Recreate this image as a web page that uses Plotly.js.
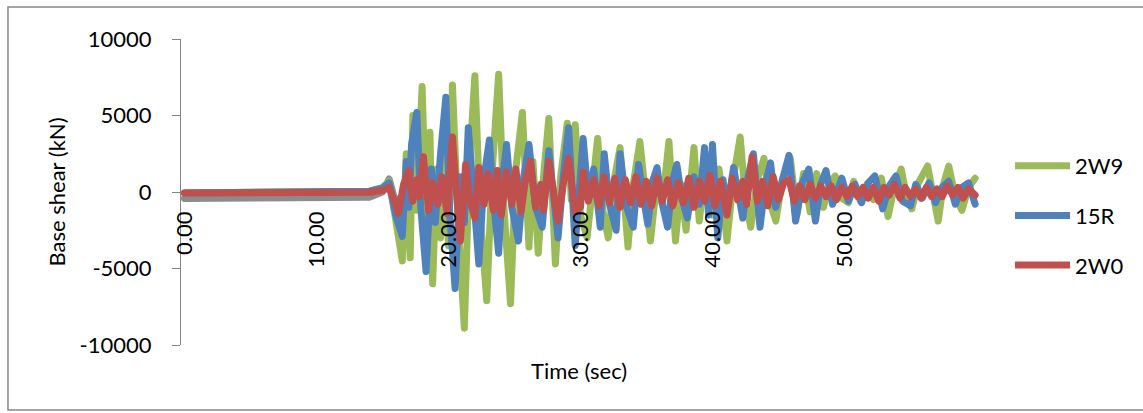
<!DOCTYPE html>
<html>
<head>
<meta charset="utf-8">
<script src="https://cdn.plot.ly/plotly-3.0.1.min.js"></script>
<style>
  html, body { margin: 0; padding: 0; background: #fff; }
  #chart { width: 1143px; height: 413px; }
  .scatterlayer path.js-line { stroke-linejoin: round; stroke-linecap: round; }
</style>
</head>
<body>
<div id="chart"></div>
<script>
// ---- data ----
const seriesNames = ['2W9', '15R', '2W0'];
const seriesColors = ['#9BBB59', '#4F81BD', '#C0504D'];

const time2W9 = [0, 3, 6, 9, 12, 14, 15, 15.5, 16.0, 16.5,
  16.8, 17.1, 17.3, 17.6, 18.0, 18.3, 18.6, 18.8, 19.1, 19.4,
  19.7, 20.0, 20.3, 20.7, 21.2, 21.6, 22.0, 22.4, 22.9, 23.3,
  23.8, 24.2, 24.7, 25.1, 25.6, 26.1, 26.4, 26.8, 27.2, 27.6,
  28.1, 28.5, 29.0, 29.3, 29.6, 30.0, 30.5, 30.9, 31.3, 31.7,
  32.1, 32.6, 33.0, 33.6, 34.0, 34.5, 34.9, 35.3, 35.8, 36.2,
  36.7, 37.2, 37.6, 38.0, 38.6, 39.0, 39.5, 40.0, 40.5, 41.1,
  41.6, 42.1, 42.5, 42.9, 43.4, 43.9, 44.4, 44.8, 45.3, 45.9,
  46.4, 46.9, 47.4, 47.9, 48.4, 48.9, 49.3, 49.8, 50.3, 50.7,
  51.2, 51.7, 52.2, 52.8, 53.3, 53.8, 54.3, 54.7, 55.1, 55.6,
  56.3, 56.7, 57.1, 57.5, 57.9, 58.4, 58.9, 59.4, 59.9];
const shear2W9 = [-60, -60, -55, -50, -45, 50, 300, 700, -1800, -4500,
  2500, -4300, 5000, -1200, 6900, -1500, 3900, -6000, 1500, -3000,
  2500, -3500, 7000, -1500, -8900, 2000, 7600, -1500, -7100, 1200,
  7700, -1000, -7300, 1500, 5200, -3600, 2000, -4000, 1000, 4800,
  -4700, 1000, 4500, -500, 4400, -1500, -3000, 800, 3500, -1200,
  -3000, 1000, 2900, -3600, 500, 3300, -500, -3200, 800, -800,
  3300, -3200, 500, -2500, 2900, -1900, 2000, -1500, 1500, -3200,
  1000, 3600, -500, -2300, 800, 2200, -800, -1900, 800, 2200,
  -1500, 1200, -1300, 1200, -1000, 600, 1050, -400, -700, 700,
  -600, 500, -500, 900, -1600, 400, 1500, -300, -1100, 600,
  1700, -200, -1900, 500, 1700, -300, -1200, 300, 900];

const time15R = [0, 3, 6, 9, 12, 14, 15, 15.5, 16.0, 16.5,
  16.8, 17.0, 17.2, 17.6, 17.9, 18.3, 18.7, 19.0, 19.4, 19.8,
  20.1, 20.5, 20.9, 21.2, 21.5, 21.9, 22.3, 22.7, 23.1, 23.4,
  23.8, 24.1, 24.4, 24.8, 25.3, 25.7, 26.1, 26.6, 27.1, 27.6,
  28.0, 28.3, 28.7, 29.1, 29.6, 30.2, 30.6, 31.0, 31.5, 31.8,
  32.2, 32.7, 33.0, 33.5, 34.0, 34.4, 34.8, 35.1, 35.5, 35.8,
  36.2, 36.6, 37.0, 37.3, 37.7, 38.1, 38.6, 39.0, 39.4, 39.7,
  40.0, 40.4, 40.8, 41.1, 41.6, 42.0, 42.3, 42.7, 43.1, 43.6,
  44.0, 44.4, 44.8, 45.3, 45.8, 46.3, 46.8, 47.3, 47.8, 48.2,
  48.6, 49.1, 49.5, 49.8, 50.3, 50.8, 51.3, 51.8, 52.3, 52.9,
  53.4, 53.9, 54.4, 55.0, 55.4, 55.9, 56.4, 56.9, 57.4, 57.9,
  58.4, 58.9, 59.4, 59.9];
const shear15R = [-60, -60, -55, -50, -45, 50, 250, 600, -1500, -2900,
  2000, -1000, 3100, 5200, -1000, -5200, 1500, -2000, 2500, 6200,
  -1500, -6300, 1000, -2000, 4200, -1000, -4700, 1000, 3400, -500,
  -4000, 800, 3100, -1000, -3200, 1000, 3100, -1000, -2300, 2700,
  -500, -3000, 1000, 4200, -3500, 3500, -500, 1500, -2300, 2500,
  -800, -2500, 2500, -1000, -2300, 1800, -500, -2100, 800, 1600,
  -800, -2300, 800, 1800, -500, -1700, 1000, -800, 2900, -1500,
  3100, -3000, 800, -1200, 1600, -500, -1700, 1000, 2500, -2300,
  500, 1900, -1000, 800, 2400, -1900, 600, 1500, -1900, 500,
  1400, -800, 300, 900, -600, 500, -700, 600, 1050, -1100,
  400, 1050, -600, -900, 500, -400, 600, -700, 300, 700,
  -800, 300, 600, -800];

const time2W0 = [0, 3, 6, 9, 12, 14, 15, 15.5, 16.0, 16.2,
  16.6, 17.0, 17.3, 17.6, 17.8, 18.1, 18.5, 18.8, 19.2, 19.5,
  19.9, 20.3, 20.6, 20.9, 21.3, 21.6, 22.0, 22.3, 22.7, 23.0,
  23.4, 23.7, 24.0, 24.4, 24.8, 25.1, 25.5, 25.8, 26.2, 26.6,
  27.0, 27.2, 27.6, 28.0, 28.3, 28.7, 29.1, 29.6, 30.0, 30.2,
  30.6, 31.0, 31.4, 31.8, 32.2, 32.6, 33.0, 33.4, 33.8, 34.2,
  34.6, 35.0, 35.4, 35.8, 36.2, 36.6, 37.0, 37.4, 37.8, 38.2,
  38.6, 39.0, 39.4, 39.8, 40.2, 40.6, 41.1, 41.5, 41.9, 42.3,
  42.6, 43.0, 43.4, 43.8, 44.2, 44.6, 45.0, 45.4, 45.8, 46.2,
  46.6, 47.0, 47.4, 47.8, 48.2, 48.6, 49.0, 49.4, 49.8, 50.2,
  50.6, 51.0, 51.4, 51.8, 52.2, 52.6, 53.0, 53.4, 53.8, 54.2,
  54.6, 55.0, 55.4, 55.8, 56.2, 56.6, 57.0, 57.4, 57.8, 58.2,
  58.6, 59.0, 59.4, 59.9];
const shear2W0 = [-70, -70, -65, -60, -55, -20, 100, 300, -800, -1400,
  500, 1400, -600, 800, -300, 2300, -1200, 600, -800, 1000,
  -1400, 3600, 0, -3200, 1800, -500, -1700, 1600, -800, 1200,
  -1200, 1400, -1500, 1300, -800, 1500, -1300, 600, 2000, -1000,
  500, -1200, 2000, -500, -1900, 500, 2200, -1300, -1000, 1300,
  -600, 800, -900, 1000, -700, 900, -1000, 800, -700, 1000,
  -800, 700, -900, 900, -600, 800, -900, 600, -700, 900,
  -1000, 700, -600, 1100, -900, 700, -1500, 900, -500, 700,
  -800, 2300, -600, 700, -900, 1000, -500, 600, 800, -600,
  400, -500, 500, -400, 400, -300, 400, -500, 300, -300,
  400, -300, 300, -400, 300, -600, 300, -200, 500, -400,
  300, -300, 200, -400, 300, -300, 200, -300, 400, -200,
  300, -400, 200, -200];

// grey band visible under the red line before the strong motion
const timeGrey = [0, 5, 10, 14, 15, 15.5, 15.9, 16.3];
const shearGrey = [-420, -420, -410, -340, 0, 850, -400, -500];

const xTickVals = [0, 10, 20, 30, 40, 50];
const xTickText = ['0.00', '10.00', '20.00', '30.00', '40.00', '50.00'];
const yTickVals = [-10000, -5000, 0, 5000, 10000];
const yTickText = ['-10000', '-5000', '0', '5000', '10000'];

// ---- traces ----
const seriesTimes = [time2W9, time15R, time2W0];
const seriesShear = [shear2W9, shear15R, shear2W0];

const traces = [{
  x: timeGrey, y: shearGrey, type: 'scatter', mode: 'lines',
  line: { color: '#8C8C8C', width: 7 }, showlegend: false, hoverinfo: 'skip'
}];
seriesNames.forEach((name, i) => {
  traces.push({
    x: seriesTimes[i], y: seriesShear[i], name: name,
    type: 'scatter', mode: 'lines', legendgroup: 'g' + i,
    line: { color: seriesColors[i], width: 7 }
  });
});

const layout = {
  width: 1143, height: 413,
  margin: { l: 181, r: 161, t: 39, b: 68, pad: 0 },
  paper_bgcolor: '#ffffff', plot_bgcolor: '#ffffff',
  font: { family: 'Lato, "Open Sans", sans-serif', size: 22, color: '#000000' },
  showlegend: true,
  xaxis: {
    range: [-0.265, 60.42], anchor: 'free', position: 0.5,
    tickmode: 'array', tickvals: xTickVals, ticktext: xTickText,
    tickangle: -90, ticks: '', showline: false, showgrid: false, zeroline: false,
    ticklabelstandoff: 14, tickfont: { size: 22, color: '#000000' },
    automargin: false, fixedrange: true
  },
  yaxis: {
    range: [-10000, 10000],
    tickmode: 'array', tickvals: yTickVals, ticktext: yTickText,
    ticks: 'outside', ticklen: 8, tickwidth: 1, tickcolor: '#868686',
    showline: true, linecolor: '#868686', linewidth: 1,
    showgrid: false, zeroline: false,
    ticklabelstandoff: 16, tickfont: { size: 22, color: '#000000' },
    title: { text: 'Base shear (kN)', font: { size: 22, color: '#000000' }, standoff: 7 },
    automargin: false, fixedrange: true
  },
  legend: {
    x: 1.035, xanchor: 'left', y: 0.6536, yanchor: 'top',
    font: { size: 22, color: '#000000' }, tracegroupgap: 18,
    itemwidth: 55,
    bgcolor: 'rgba(0,0,0,0)', borderwidth: 0
  },
  annotations: [{
    text: 'Time (sec)', xref: 'paper', yref: 'paper',
    x: 0.497, y: -0.0817, xanchor: 'center', yanchor: 'middle',
    showarrow: false, font: { size: 22, color: '#000000' }
  }],
  shapes: [{
    type: 'rect', xref: 'paper', yref: 'paper',
    x0: -0.216, x1: 1.25, y0: -0.2124, y1: 1.1046,
    line: { color: '#878787', width: 1.5 }, layer: 'below'
  }]
};

Plotly.newPlot('chart', traces, layout, { displayModeBar: false, staticPlot: true });
</script>
</body>
</html>
